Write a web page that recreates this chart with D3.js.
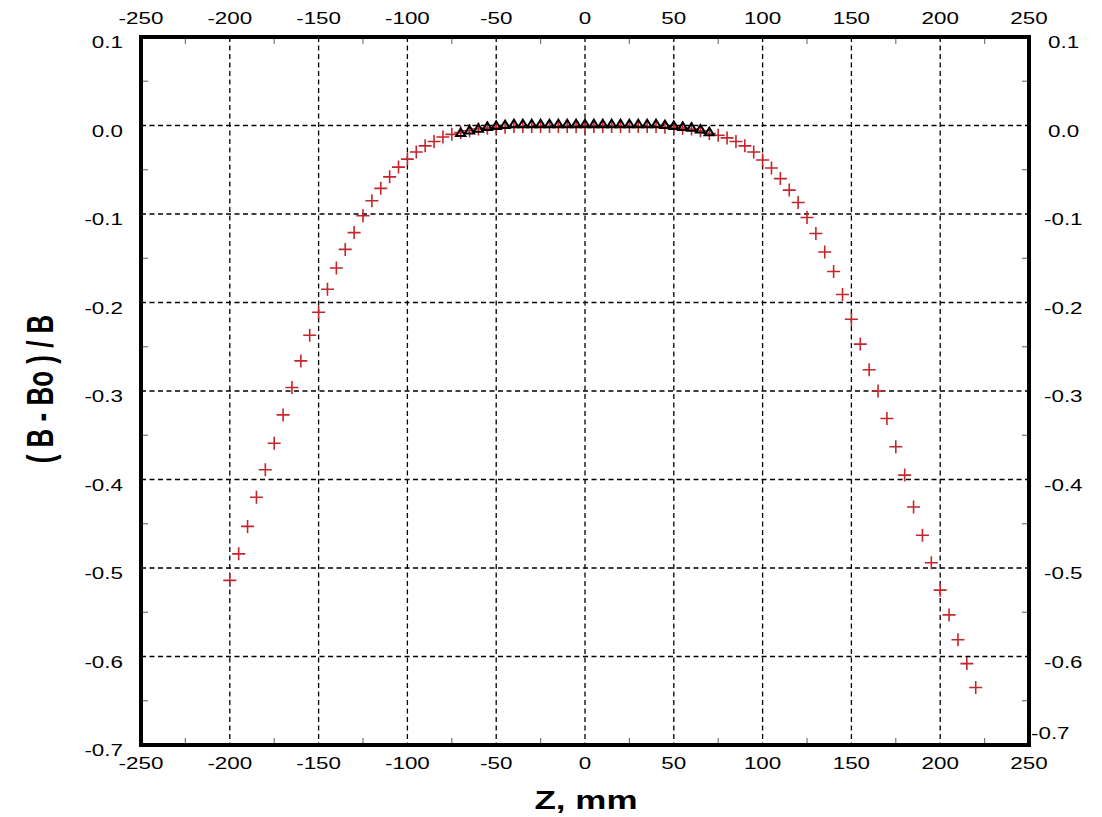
<!DOCTYPE html>
<html>
<head>
<meta charset="utf-8">
<script src="https://cdn.jsdelivr.net/npm/d3@7"></script>
<style>
  html, body { margin: 0; padding: 0; background: #fff; }
  svg text { font-family: "Liberation Sans", Arial, sans-serif; }
</style>
</head>
<body>
<svg id="chart" width="1102" height="817"></svg>
<script>
// red crosses: field along Z
const crossZ = [
  -200, -195, -190, -185, -180, -175, -170, -165, -160, -155,
  -150, -145, -140, -135, -130, -125, -120, -115, -110, -105,
  -100, -95, -90, -85, -80, -75, -70, -65, -60, -55,
  -50, -45, -40, -35, -30, -25, -20, -15, -10, -5,
  0, 5, 10, 15, 20, 25, 30, 35, 40, 45,
  50, 55, 60, 65, 70, 75, 80, 85, 90, 95,
  100, 105, 110, 115, 120, 125, 130, 135, 140, 145,
  150, 155, 160, 165, 170, 175, 180, 185, 190, 195,
  200, 205, 210, 215, 220
];
const crossB = [
  -0.514, -0.484, -0.453, -0.420, -0.389, -0.359, -0.327, -0.296, -0.266, -0.237,
  -0.211, -0.185, -0.161, -0.140, -0.121, -0.102, -0.085, -0.071, -0.058, -0.047,
  -0.038, -0.030, -0.023, -0.018, -0.013, -0.010, -0.008, -0.006, -0.004, -0.003,
  -0.002, -0.002, -0.001, -0.001, -0.001, -0.001, -0.001, -0.001, -0.001, -0.001,
  -0.001, -0.001, -0.001, -0.001, -0.001, -0.001, -0.001, -0.001, -0.001, -0.002,
  -0.002, -0.003, -0.004, -0.006, -0.009, -0.011, -0.014, -0.018, -0.023, -0.030,
  -0.039, -0.048, -0.060, -0.073, -0.087, -0.104, -0.122, -0.143, -0.165, -0.191,
  -0.219, -0.247, -0.276, -0.300, -0.331, -0.363, -0.395, -0.431, -0.463, -0.494,
  -0.525, -0.553, -0.581, -0.608, -0.635
];

// black triangles: central region
const triZ = [
  -70, -65, -60, -55, -50, -45, -40, -35, -30, -25,
  -20, -15, -10, -5, 0, 5, 10, 15, 20, 25,
  30, 35, 40, 45, 50, 55, 60, 65, 70
];
const triB = [
  -0.008, -0.005, -0.003, -0.001, 0.000, 0.001, 0.002, 0.002, 0.002, 0.002,
  0.002, 0.002, 0.002, 0.002, 0.002, 0.002, 0.002, 0.002, 0.002, 0.002,
  0.002, 0.002, 0.002, 0.001, 0.000, -0.001, -0.002, -0.004, -0.007
];

const xTicks = ["-250", "-200", "-150", "-100", "-50", "0", "50", "100", "150", "200", "250"];
const xMinor = [-225, -175, -125, -75, -25, 25, 75, 125, 175, 225];
const yTicks = ["0.1", "0.0", "-0.1", "-0.2", "-0.3", "-0.4", "-0.5", "-0.6", "-0.7"];
const yMinor = [0.05, -0.05, -0.15, -0.25, -0.35, -0.45, -0.55, -0.65];

(() => {
  const svg = d3.select("#chart");

  const left = 141, right = 1029, top = 37, bottom = 745;
  const STRETCH = 1.4; // reference text is horizontally stretched
  const RED = "#c4262c";

  const x = d3.scaleLinear().domain([-250, 250]).range([left, right]);
  const y = d3.scaleLinear().domain([-0.7, 0.1]).range([bottom, top]);

  const inner = v => v > -250 && v < 250;
  const innerY = v => v < 0.099 && v > -0.699;

  // grid
  const grid = svg.append("g")
    .attr("stroke", "#000")
    .attr("stroke-width", 1.3)
    .attr("stroke-dasharray", "5,3.5");

  grid.selectAll("line.vx")
    .data(xTicks.map(Number).filter(inner))
    .join("line")
    .attr("x1", d => x(d)).attr("x2", d => x(d))
    .attr("y1", top).attr("y2", bottom);

  grid.selectAll("line.hy")
    .data(yTicks.map(Number).filter(innerY))
    .join("line")
    .attr("x1", left).attr("x2", right)
    .attr("y1", d => y(d)).attr("y2", d => y(d));

  // minor ticks, pointing inwards
  const minor = svg.append("g")
    .attr("stroke", "#777")
    .attr("stroke-width", 1.2);

  xMinor.forEach(v => {
    minor.append("line").attr("x1", x(v)).attr("x2", x(v)).attr("y1", top).attr("y2", top + 7);
    minor.append("line").attr("x1", x(v)).attr("x2", x(v)).attr("y1", bottom).attr("y2", bottom - 7);
  });
  yMinor.forEach(v => {
    minor.append("line").attr("x1", left).attr("x2", left + 7).attr("y1", y(v)).attr("y2", y(v));
    minor.append("line").attr("x1", right).attr("x2", right - 7).attr("y1", y(v)).attr("y2", y(v));
  });

  // data: crosses
  const crosses = crossZ.map((z, i) => ({ z, b: crossB[i] }));
  svg.append("g")
    .selectAll("path")
    .data(crosses)
    .join("path")
    .attr("transform", d => `translate(${x(d.z)},${y(d.b)})`)
    .attr("d", "M-6.5,0H6.5M0,-6.5V6.5")
    .attr("fill", "none")
    .attr("stroke", RED)
    .attr("stroke-width", 1.6);

  // data: triangles
  const tris = triZ.map((z, i) => ({ z, b: triB[i] }));
  svg.append("g")
    .selectAll("path")
    .data(tris)
    .join("path")
    .attr("transform", d => `translate(${x(d.z)},${y(d.b)})`)
    .attr("d", "M0,-4L4.6,3.5L-4.6,3.5Z")
    .attr("fill", "none")
    .attr("stroke", "#000")
    .attr("stroke-width", 2);

  // frame
  svg.append("rect")
    .attr("x", left).attr("y", top)
    .attr("width", right - left).attr("height", bottom - top)
    .attr("fill", "none")
    .attr("stroke", "#000")
    .attr("stroke-width", 4);

  // tick labels
  const label = (tx, ty, txt, anchor) =>
    svg.append("text")
      .attr("transform", `translate(${tx},${ty}) scale(${STRETCH},1)`)
      .attr("text-anchor", anchor)
      .attr("font-size", "16px")
      .attr("fill", "#000")
      .text(txt);

  xTicks.forEach(t => {
    label(x(+t), 24, t, "middle");
    label(x(+t), 769, t, "middle");
  });

  yTicks.forEach(t => {
    const v = +t;
    label(123, y(v) + 11, t, "end");
    if (t === "-0.7") label(1031, y(v) - 6, t, "start");
    else label(v < 0 ? 1044 : 1048, y(v) + 11, t, "start");
  });

  // axis titles
  svg.append("text")
    .attr("transform", `translate(586,809) scale(${STRETCH},1)`)
    .attr("text-anchor", "middle")
    .attr("font-size", "25px")
    .attr("font-weight", "bold")
    .text("Z, mm");

  svg.append("text")
    .attr("transform", `translate(53,389) scale(${STRETCH},1) rotate(-90)`)
    .attr("text-anchor", "middle")
    .attr("font-size", "26px")
    .attr("font-weight", "bold")
    .attr("xml:space", "preserve")
    .text("( B - Bo ) / B");
})();
</script>
</body>
</html>
